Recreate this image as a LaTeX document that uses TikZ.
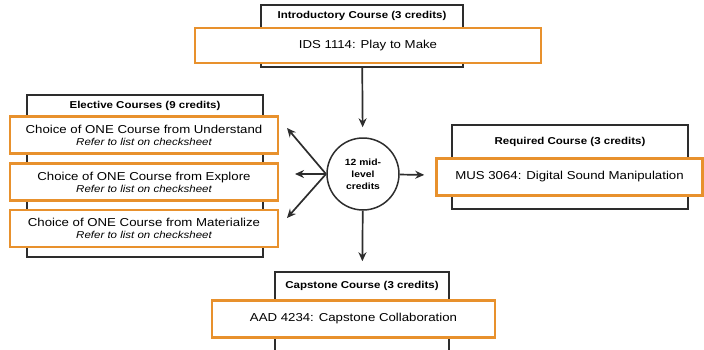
\documentclass[tikz,border=0pt]{standalone}
\usepackage{fontspec}
\setmainfont[FakeStretch=1.15]{Liberation Sans}
\usepackage{tikz}
\usetikzlibrary{positioning,arrows.meta}
\definecolor{courseorange}{RGB}{232,145,45}
\definecolor{framegray}{RGB}{45,45,45}
\begin{document}
\begin{tikzpicture}[x=1pt,y=-1pt,
  frame/.style={draw=framegray,line width=1.5pt,minimum width=#1,inner sep=0pt},
  course/.style={draw=courseorange,fill=white,line width=2.5pt,minimum width=#1,minimum height=37pt,inner sep=0pt,font=\fontsize{11.5}{13}\selectfont,align=center},
  title/.style={font=\bfseries\fontsize{10}{11}\selectfont},
  hub/.style={circle,draw=framegray,line width=1.5pt,minimum size=72pt,inner sep=0pt,font=\bfseries\fontsize{9}{12}\selectfont,align=center},
  link/.style={draw=framegray,line width=1.7pt,-{Stealth[length=9pt,width=8pt]}}
  ]
\useasboundingbox (0,0) rectangle (704,349);
\def\refer{\\[-1pt]{\itshape\fontsize{10}{11}\selectfont Refer to list on checksheet}}
\node[frame=202pt,minimum height=62pt] (introF) at (362,36){};          % introductory frame
\node[title] (introT) at (362,16){Introductory Course (3 credits)};
\node[course=346pt,minimum height=35pt] (intro) at (368,45.5){IDS 1114: Play to Make};
\node[frame=236pt,minimum height=162pt] (electF) at (145,176){};        % elective frame
\node[title] (electT) at (145,106){Elective Courses (9 credits)};
\node[course=268pt] (und) at (144,135){Choice of ONE Course from Understand\refer};
\node[course=268pt] (exp) at (144,182){Choice of ONE Course from Explore\refer};
\node[course=268pt] (mat) at (144,228.5){Choice of ONE Course from Materialize\refer};
\node[frame=236pt,minimum height=84pt] (reqF) at (570,167){};           % required frame
\node[title] (reqT) at (570,142){Required Course (3 credits)};
\node[course=266pt] (req) at (569.5,177){MUS 3064: Digital Sound Manipulation};
\node[frame=174pt,minimum height=82pt] (capF) at (362,313){};           % capstone frame
\node[title] (capT) at (362,286){Capstone Course (3 credits)};
\node[course=283pt] (cap) at (353.5,319){AAD 4234: Capstone Collaboration};
\node[hub] (mid) at (363,174){12 mid-\\level\\credits};                  % hub
\coordinate (tipU) at (287,128);
\coordinate (tipE) at (295,174);
\coordinate (tipM) at (287,218);
\coordinate (start) at (326,174);
\draw[link,shorten >=10pt] (introF) -- (mid);
\draw[link] (start) -- (tipU);
\draw[link] (start) -- (tipE);
\draw[link] (start) -- (tipM);
\draw[link,shorten >=11pt] (mid) -- (req);
\draw[link,shorten >=10pt] (mid) -- (capF);
\end{tikzpicture}
\end{document}
